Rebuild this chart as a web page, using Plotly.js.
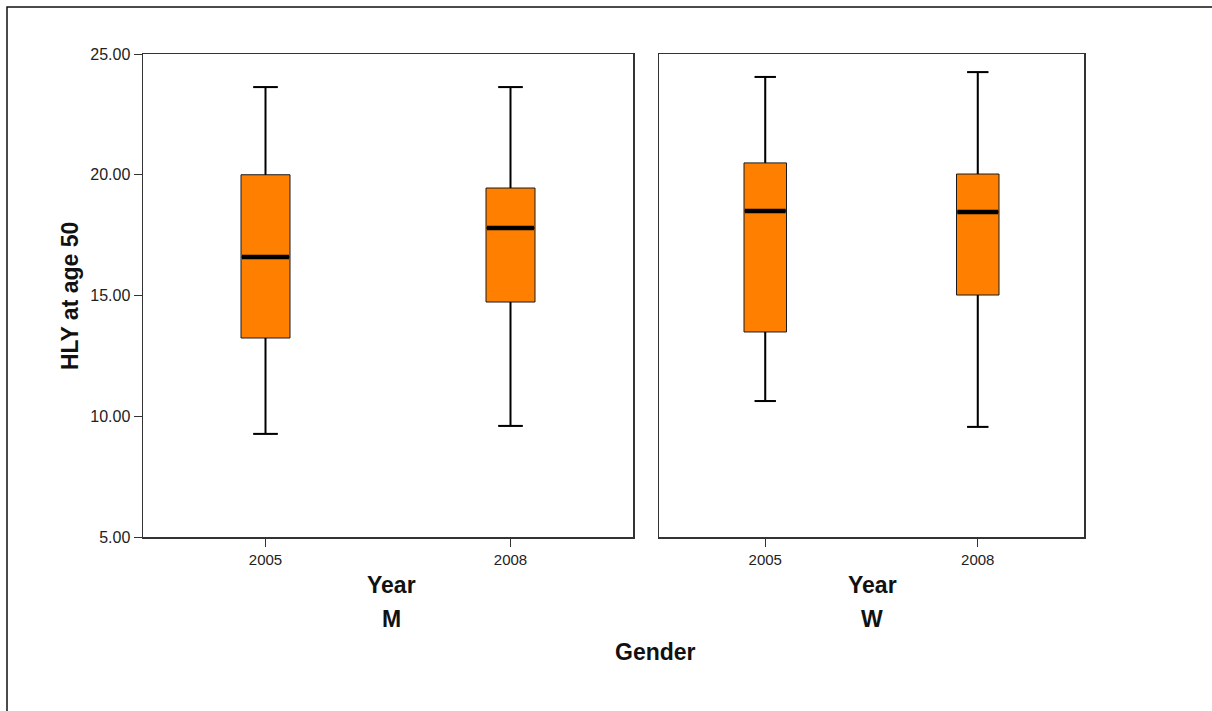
<!DOCTYPE html>
<html>
<head>
<meta charset="utf-8">
<script src="https://cdn.plot.ly/plotly-3.0.1.min.js"></script>
<style>html,body{margin:0;padding:0;background:#fff;}#chart{width:1212px;height:711px;}</style>
</head>
<body>
<div id="chart"></div>
<script>
// ---- data ----
var years = ['2005', '2008'];
var genders = ['M', 'W'];
var lowM    = [9.27, 9.60];
var q1M     = [13.24, 14.73];
var medM    = [16.59, 17.80];
var q3M     = [20.00, 19.45];
var highM   = [23.63, 23.63];
var lowW    = [10.63, 9.56];
var q1W     = [13.49, 15.02];
var medW    = [18.50, 18.46];
var q3W     = [20.49, 20.03];
var highW   = [24.05, 24.25];
var yTicks  = [5, 10, 15, 20, 25];
var yTickText = ['5.00', '10.00', '15.00', '20.00', '25.00'];

// ---- styling constants ----
var W = 1212, H = 711;
var FONT = 'Liberation Sans, Arial, sans-serif';
var ORANGE = '#FF8000';
var BOXW = 0.2, CAP = 0.05, MEDHALF = 0.1;
var xpos = years.map(function (_, i) { return i; });

function px(x) { return x / W; }
function py(y) { return 1 - y / H; }

function panelTraces(low, q1, med, q3, high, xa, ya) {
  var box = {
    type: 'box', x: xpos, q1: q1, median: med, q3: q3,
    lowerfence: low, upperfence: high,
    width: BOXW, whiskerwidth: 0.5,
    fillcolor: ORANGE, line: {color: '#1a1a1a', width: 1},
    boxpoints: false, hoverinfo: 'skip', showlegend: false,
    xaxis: xa, yaxis: ya
  };
  var wx = [], wy = [];
  xpos.forEach(function (x, i) {
    wx.push(x, x, null, x - CAP, x + CAP, null, x, x, null, x - CAP, x + CAP, null);
    wy.push(q3[i], high[i], null, high[i], high[i], null, q1[i], low[i], null, low[i], low[i], null);
  });
  var whisk = {
    type: 'scatter', mode: 'lines', x: wx, y: wy,
    line: {color: '#000', width: 2}, hoverinfo: 'skip', showlegend: false,
    xaxis: xa, yaxis: ya
  };
  var mx = [], my = [];
  xpos.forEach(function (x, i) {
    mx.push(x - MEDHALF + 0.004, x + MEDHALF - 0.004, null);
    my.push(med[i], med[i], null);
  });
  var medTr = {
    type: 'scatter', mode: 'lines', x: mx, y: my,
    line: {color: '#000', width: 4.5}, hoverinfo: 'skip', showlegend: false,
    xaxis: xa, yaxis: ya
  };
  return [box, whisk, medTr];
}

var data = panelTraces(lowM, q1M, medM, q3M, highM, 'x', 'y')
  .concat(panelTraces(lowW, q1W, medW, q3W, highW, 'x2', 'y2'));

var yDomain = [py(537), py(54)];
var axisLine = {showline: true, mirror: true, linecolor: '#333', linewidth: 1.5, zeroline: false, showgrid: false};

function xAxis(dom, anchor) {
  return Object.assign({}, axisLine, {
    domain: dom, anchor: anchor, range: [-0.5, 1.5], fixedrange: true,
    tickmode: 'array', tickvals: xpos, ticktext: years,
    ticks: 'outside', ticklen: 8, tickcolor: '#333', tickwidth: 1,
    tickfont: {family: FONT, size: 15, color: '#222'}, automargin: false
  });
}

var layout = {
  width: W, height: H,
  margin: {l: 0, r: 0, t: 0, b: 0},
  paper_bgcolor: '#fff', plot_bgcolor: '#fff',
  showlegend: false,
  xaxis: xAxis([px(143), px(633)], 'y'),
  xaxis2: xAxis([px(659), px(1084)], 'y2'),
  yaxis: Object.assign({}, axisLine, {
    domain: yDomain, anchor: 'x', range: [5, 25],
    tickmode: 'array', tickvals: yTicks, ticktext: yTickText,
    ticks: 'outside', ticklen: 8, tickcolor: '#333', tickwidth: 1,
    tickfont: {family: FONT, size: 16, color: '#222'}, automargin: false
  }),
  yaxis2: Object.assign({}, axisLine, {
    domain: yDomain, anchor: 'x2', range: [5, 25],
    showticklabels: false, ticks: '', automargin: false
  }),
  shapes: [{
    type: 'rect', xref: 'paper', yref: 'paper',
    x0: px(7), x1: 1.05, y0: -0.05, y1: py(7),
    line: {color: '#111', width: 1.5}, fillcolor: 'rgba(0,0,0,0)', layer: 'below'
  }],
  annotations: [
    {text: 'HLY at age 50', xref: 'paper', yref: 'paper', x: px(70), y: py(296),
     textangle: -90, showarrow: false, xanchor: 'center', yanchor: 'middle',
     font: {family: FONT, size: 23, color: '#111', weight: 'bold'}},
    {text: 'Year', xref: 'paper', yref: 'paper', x: px(391), y: py(585),
     showarrow: false, xanchor: 'center', yanchor: 'middle',
     font: {family: FONT, size: 23, color: '#111', weight: 'bold'}},
    {text: 'Year', xref: 'paper', yref: 'paper', x: px(872), y: py(585),
     showarrow: false, xanchor: 'center', yanchor: 'middle',
     font: {family: FONT, size: 23, color: '#111', weight: 'bold'}},
    {text: genders[0], xref: 'paper', yref: 'paper', x: px(391), y: py(619),
     showarrow: false, xanchor: 'center', yanchor: 'middle',
     font: {family: FONT, size: 23, color: '#111', weight: 'bold'}},
    {text: genders[1], xref: 'paper', yref: 'paper', x: px(872), y: py(619),
     showarrow: false, xanchor: 'center', yanchor: 'middle',
     font: {family: FONT, size: 23, color: '#111', weight: 'bold'}},
    {text: 'Gender', xref: 'paper', yref: 'paper', x: px(655), y: py(652),
     showarrow: false, xanchor: 'center', yanchor: 'middle',
     font: {family: FONT, size: 23, color: '#111', weight: 'bold'}}
  ]
};

Plotly.newPlot('chart', data, layout, {displayModeBar: false, staticPlot: true});
</script>
</body>
</html>
